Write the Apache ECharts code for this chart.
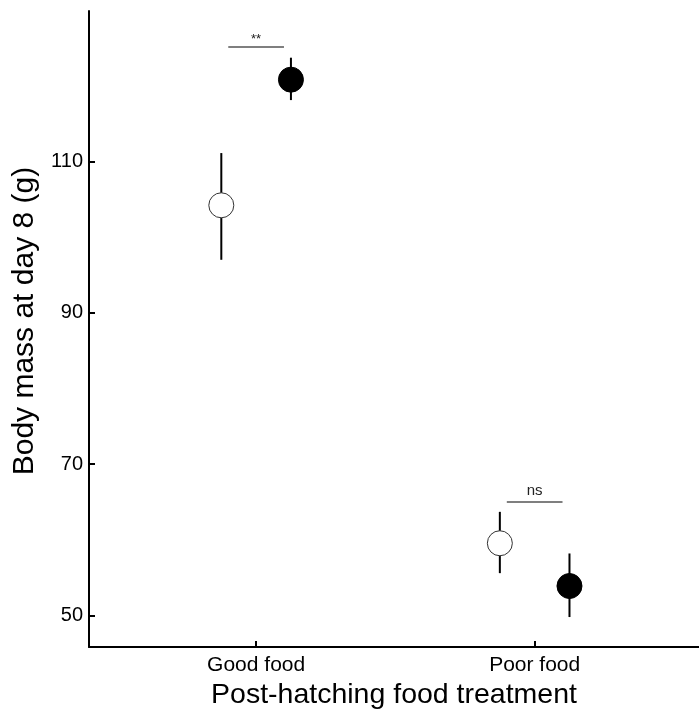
<!DOCTYPE html>
<html>
<head>
<meta charset="utf-8">
<script src="https://cdn.jsdelivr.net/npm/echarts@6/dist/echarts.min.js"></script>
<style>html,body{margin:0;padding:0;background:#fff}#c{width:699px;height:715px}</style>
</head>
<body>
<div id="c"></div>
<script>
// ---- data ----
const groups = ['Good food', 'Poor food'];
const groupX = [1, 2];
const openMean = [104.2, 59.55];
const openLow = [97.0, 55.6];
const openHigh = [111.1, 63.7];
const filledMean = [120.8, 53.9];
const filledLow = [118.1, 49.8];
const filledHigh = [123.7, 58.2];
const sigLabels = ['**', 'ns'];
const sigY = [125.1, 65.0];
const yTicks = [50, 70, 90, 110];

// ---- layout constants ----
const DODGE = 0.125;
const SIG_HALF = 0.1;
const FONT = 'Liberation Sans, Arial, sans-serif';

const openPts = groupX.map((x, i) => [x - DODGE, openMean[i]]);
const filledPts = groupX.map((x, i) => [x + DODGE, filledMean[i]]);
const errData = [];
groupX.forEach((x, i) => {
  errData.push([x - DODGE, openLow[i], openHigh[i]]);
  errData.push([x + DODGE, filledLow[i], filledHigh[i]]);
});
const sigData = groupX.map((x, i) => [x, sigY[i], sigLabels[i]]);

const chart = echarts.init(document.getElementById('c'), null, {renderer: 'canvas'});
chart.setOption({
  animation: false,
  backgroundColor: '#fff',
  grid: {left: 89, right: 0, top: 11, bottom: 65, containLabel: false},
  xAxis: {
    type: 'value', min: 0.4, max: 2.59,
    splitLine: {show: false},
    axisLine: {show: true, onZero: false, lineStyle: {color: '#000', width: 2}},
    axisTick: {show: true, inside: true, length: 6, customValues: groupX, lineStyle: {color: '#000', width: 2}},
    axisLabel: {customValues: groupX, margin: 8, color: '#000', fontFamily: FONT, fontSize: 21,
      formatter: v => groups[groupX.indexOf(v)] || ''},
    name: 'Post-hatching food treatment', nameLocation: 'middle', nameGap: 33,
    nameTextStyle: {color: '#000', fontFamily: FONT, fontSize: 28.5}
  },
  yAxis: {
    type: 'value', min: 45.83, max: 129.87,
    splitLine: {show: false},
    axisLine: {show: true, onZero: false, lineStyle: {color: '#000', width: 2}},
    axisTick: {show: true, inside: true, length: 6, customValues: yTicks, lineStyle: {color: '#000', width: 2}},
    axisLabel: {customValues: yTicks, margin: 6, color: '#000', fontFamily: FONT, fontSize: 20},
    name: 'Body mass at day 8 (g)', nameLocation: 'middle', nameGap: 49,
    nameTextStyle: {color: '#000', fontFamily: FONT, fontSize: 30, padding: [0, 0, 0, 16]}
  },
  series: [
    {
      type: 'custom', z: 2,
      data: errData,
      renderItem: function (params, api) {
        const p1 = api.coord([api.value(0), api.value(1)]);
        const p2 = api.coord([api.value(0), api.value(2)]);
        return {type: 'line', shape: {x1: p1[0], y1: p1[1], x2: p2[0], y2: p2[1]},
          style: {stroke: '#000', lineWidth: 2}};
      }
    },
    {
      type: 'scatter', z: 3, data: openPts, symbol: 'circle', symbolSize: 25,
      itemStyle: {color: '#fff', borderColor: '#333', borderWidth: 1, opacity: 1}
    },
    {
      type: 'scatter', z: 3, data: filledPts, symbol: 'circle', symbolSize: 25,
      itemStyle: {color: '#000', borderColor: '#000', borderWidth: 1, opacity: 1}
    },
    {
      type: 'custom', z: 4,
      data: sigData,
      renderItem: function (params, api) {
        const x = api.value(0), y = api.value(1);
        const a = api.coord([x - SIG_HALF, y]);
        const b = api.coord([x + SIG_HALF, y]);
        const label = sigLabels[params.dataIndex];
        return {type: 'group', children: [
          {type: 'line', shape: {x1: a[0], y1: a[1], x2: b[0], y2: b[1]},
            style: {stroke: '#555', lineWidth: 1.5}},
          {type: 'text', x: (a[0] + b[0]) / 2, y: a[1] - (label === '**' ? 1 : 4),
            style: {text: label, fill: '#222', font: (label === '**' ? '13px ' : '15px ') + FONT,
              align: 'center', verticalAlign: 'bottom'}}
        ]};
      }
    }
  ]
});
</script>
</body>
</html>
